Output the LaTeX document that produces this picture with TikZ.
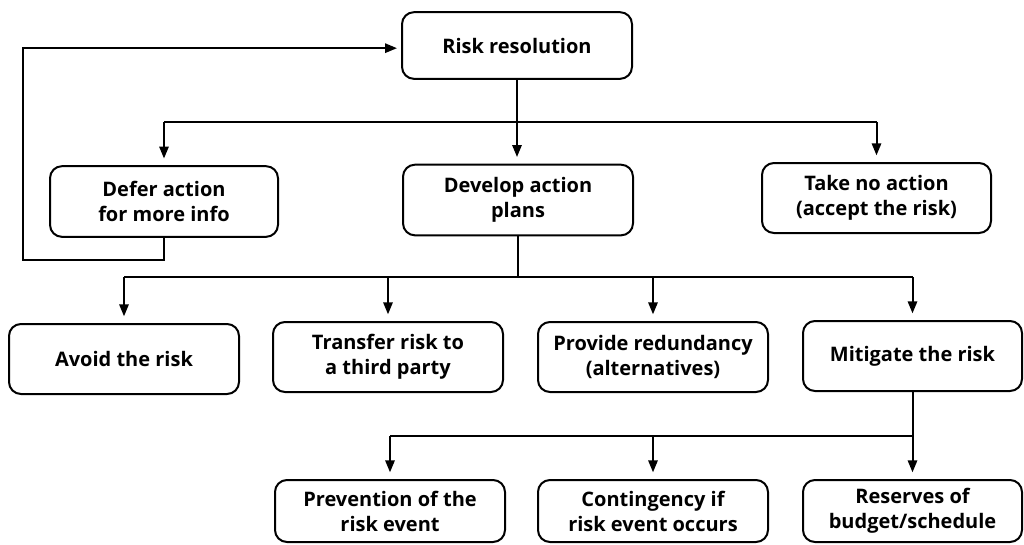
\documentclass[tikz,border=0pt]{standalone}
\usepackage{fontspec}
\setmainfont{Open Sans}
\usetikzlibrary{arrows.meta}
\begin{document}
\begin{tikzpicture}[x=0.75pt,y=-0.75pt,
  box/.style={draw, line width=1.5pt, rounded corners=9pt, align=center,
    font=\bfseries\fontsize{15}{18.8}\selectfont, inner sep=0pt,
    minimum width=172.5pt, minimum height=52.5pt},
  link/.style={line width=1.5pt},
  arr/.style={link, -{Triangle[length=9pt,width=7pt]}, shorten >=5pt}]
\useasboundingbox (0,0) rectangle (1024,544);

% top node
\node[box, minimum height=50pt] (rr) at (517,45.5) {Risk resolution};

% first level of choices
\node[box, minimum width=171pt, minimum height=53pt] (defer) at (164,201.5) {Defer action\\for more info};
\node[box, minimum height=53pt] (dev) at (518,200) {Develop action\\plans};
\node[box, minimum width=171.75pt] (none) at (876.5,198) {Take no action\\(accept the risk)};

% action plans
\node[box] (avoid) at (124,359) {Avoid the risk};
\node[box] (transfer) at (388,357) {Transfer risk to\\a third party};
\node[box] (redund) at (653,357) {Provide redundancy\\(alternatives)};
\node[box, minimum width=164.25pt] (mitig) at (912.5,356) {Mitigate the risk};

% mitigation options
\node[box, minimum height=46.5pt] (prev) at (390,511) {Prevention of the\\risk event};
\node[box, minimum height=46.5pt] (cont) at (653,511) {Contingency if\\risk event occurs};
\node[box, minimum width=164.25pt, minimum height=46.5pt] (reserve) at (912.5,511) {Reserves of\\budget/schedule};

% bus levels
\coordinate (b1) at (0,122);
\coordinate (b2) at (0,277);
\coordinate (b3) at (0,436);
\coordinate (fb) at (23,260);

% risk resolution -> first level
\draw[arr] (rr.south) -- (rr.south |- dev.north);
\draw[link] (defer.north |- b1) -- (none.north |- b1);
\draw[arr] (defer.north |- b1) -- (defer.north);
\draw[arr] (none.north |- b1) -- (none.north);

% feedback loop from deferral back to risk resolution
\draw[link, -{Triangle[length=9pt,width=7pt]}, shorten >=3pt]
  (defer.south) |- (fb) |- ([yshift=-2pt]rr.west);

% action plans bus
\draw[link] (dev.south) -- (dev.south |- b2);
\draw[link] (avoid.north |- b2) -- (mitig.north |- b2);
\foreach \n in {avoid,transfer,redund,mitig}
  \draw[arr] (\n.north |- b2) -- (\n.north);

% mitigation bus
\draw[link] (mitig.south) -- (mitig.south |- b3);
\draw[link] (prev.north |- b3) -- (mitig.south |- b3);
\draw[arr] (prev.north |- b3) -- (prev.north);
\draw[arr] (cont.north |- b3) -- (cont.north);
\draw[arr] (mitig.south |- b3) -- (mitig.south |- reserve.north);
\end{tikzpicture}
\end{document}
